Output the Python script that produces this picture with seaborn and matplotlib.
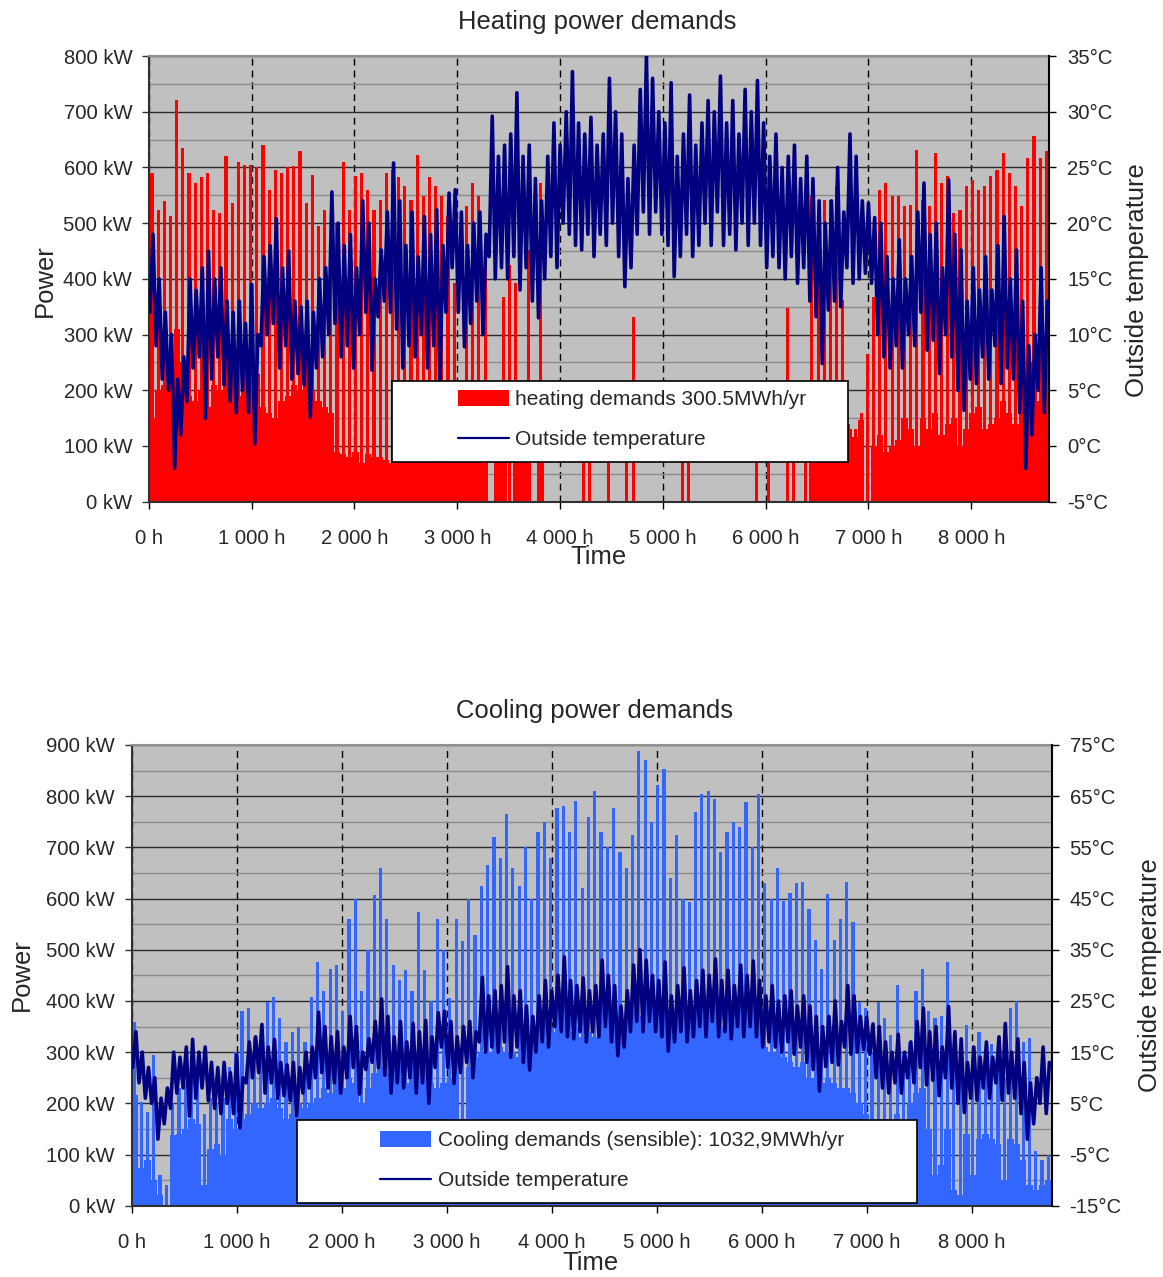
import numpy as np
import pandas as pd
import matplotlib
matplotlib.use("Agg")
import matplotlib.pyplot as plt
from matplotlib import font_manager
from matplotlib.patches import Patch, Rectangle
from matplotlib.lines import Line2D
from matplotlib.ticker import FuncFormatter, MultipleLocator, FixedLocator
import seaborn as sns

# ---------------------------------------------------------------------------
# Data: one year of building loads, summarised in 60-hour bins.
# For every bin the outside temperature is given as its low and high value,
# the demands as a sustained base level and the peak reached in the bin.
# ---------------------------------------------------------------------------
STEP_H = 60

temp_lo = [12, 9, 6, 5, -2, 1, 4, 7, 8, 2.5,
           6, 8, 5.5, 4, 3, 5, 3, 0.2, 9, 10,
           11, 7, 9, 6, 6.5, 5.5, 2.6, 7, 8, 10,
           11, 8, 9, 7, 10, 12, 6.8, 11.6, 13, 12,
           10.5, 7, 9, 8, 10, 7, 9, 5, 12, 16,
           12, 8.9, 11, 13, 10, 17, 15, 16, 15, 17,
           14, 16, 13, 11.5, 15, 17, 16, 20, 19, 18,
           17.6, 19, 17, 19, 18, 20, 17, 14.3, 16, 19,
           21, 19, 21, 19, 18, 15.2, 17, 19, 17, 18,
           20, 18, 21, 18, 19, 17.6, 20, 18, 20, 18,
           16, 17, 16, 15, 17, 14.6, 16, 13, 11.6, 7.4,
           12.2, 13, 12.5, 16, 14.6, 15, 15.5, 14.6, 10, 8,
           7, 9, 7, 10, 9, 12, 8.6, 9.5, 6.5, 10,
           8, 5, 3.2, 6, 5.6, 8, 6, 9, 5.6, 7,
           6, 3, -2, 1, 5, 3]

temp_hi = [19, 15, 12, 10, 6, 8, 15, 14, 16, 17.5,
           15, 16, 13, 12, 13, 11, 14.5, 10, 17, 18,
           20.4, 16, 17.5, 13, 12.5, 13, 12, 15, 16, 22.8,
           20, 18, 19, 16, 22, 20, 15, 17.6, 21, 25.4,
           22, 18, 21, 17, 20.6, 19, 21.2, 18, 22.7, 23,
           21, 18, 20, 21, 19, 29.6, 26, 27, 28, 31.7,
           26, 27, 24, 22, 26, 29, 27, 30, 33.6, 29,
           28, 29.5, 27, 28, 33, 30, 28, 24, 27, 32,
           35, 33, 30, 29, 32.6, 26, 28, 31.5, 27, 29,
           31, 30, 33.2, 29, 31, 28, 32, 30, 32.8, 29,
           26, 28, 25, 26, 27, 24, 26, 24, 22, 20,
           22, 25, 21, 28, 26, 22, 21.8, 20.5, 20, 17,
           15, 18.5, 15, 17, 21, 23.6, 19, 20, 16, 23.9,
           19, 17.6, 13, 16, 14, 17, 14, 18, 20.6, 15,
           17.6, 13, 9, 10, 16, 13]

heat_base = [150, 200, 210, 230, 310, 250, 190, 180, 200, 170,
             210, 200, 240, 220, 190, 200, 210, 230, 170, 160,
             150, 180, 190, 210, 200, 220, 200, 180, 170, 160,
             90, 85, 80, 90, 70, 85, 80, 80, 75, 70,
             85, 80, 90, 80, 85, 80, 75, 70, 90, 80,
             80, 100, 110, 90, 100, 0, 100, 90, 0, 80,
             90, 80, 0, 80, 0, 0, 0, 0, 0, 0,
             0, 0, 0, 0, 0, 0, 0, 0, 0, 0,
             0, 0, 0, 0, 0, 0, 0, 0, 0, 0,
             0, 0, 0, 0, 0, 0, 0, 0, 0, 0,
             0, 0, 0, 0, 0, 0, 0, 110, 120, 100,
             120, 110, 100, 130, 117, 147, 0, 100, 120, 90,
             100, 110, 150, 130, 100, 150, 130, 160, 120, 140,
             150, 100, 130, 160, 170, 130, 140, 150, 180, 160,
             140, 170, 220, 250, 180, 160]

heat_peak = [590, 524, 540, 512, 721, 634, 590, 572, 583, 590,
             524, 518, 620, 536, 610, 605, 605, 600, 640, 560,
             595, 590, 600, 602, 630, 536, 587, 494, 524, 420,
             500, 610, 524, 585, 590, 560, 524, 542, 590, 595,
             583, 566, 542, 622, 548, 583, 566, 548, 512, 392,
             0, 530, 572, 548, 428, 0, 0, 368, 425, 392,
             0, 452, 0, 572, 0, 0, 0, 0, 0, 0,
             100, 100, 0, 0, 100, 0, 0, 100, 332, 0,
             0, 0, 0, 0, 0, 0, 100, 100, 0, 0,
             0, 0, 0, 0, 0, 0, 0, 0, 100, 0,
             100, 0, 0, 347, 100, 0, 100, 548, 452, 542,
             542, 566, 362, 140, 130, 160, 266, 368, 560, 572,
             548, 548, 530, 533, 632, 542, 530, 626, 572, 584,
             518, 524, 566, 578, 560, 566, 584, 596, 626, 590,
             566, 530, 617, 656, 617, 629]

cool_base = [216, 73, 90, 50, 20, 0, 138, 140, 150, 170,
             160, 40, 110, 120, 100, 170, 150, 170, 180, 200,
             190, 200, 210, 190, 170, 180, 200, 190, 200, 210,
             230, 220, 240, 230, 250, 240, 200, 230, 260, 270,
             260, 250, 250, 240, 260, 270, 250, 240, 230, 240,
             250, 260, 170, 270, 290, 300, 300, 300, 310, 300,
             300, 290, 300, 330, 330, 320, 350, 340, 350, 340,
             350, 330, 340, 330, 350, 360, 350, 370, 360, 380,
             370, 360, 380, 370, 360, 350, 360, 370, 360, 380,
             370, 380, 360, 350, 370, 360, 360, 360, 350, 350,
             310, 300, 300, 290, 280, 270, 280, 250, 250, 240,
             250, 240, 230, 230, 220, 200, 180, 100, 170, 170,
             100, 180, 100, 200, 220, 230, 150, 60, 80, 150,
             30, 20, 140, 60, 130, 140, 130, 120, 50, 130,
             120, 90, 40, 30, 40, 50]

cool_peak = [359, 203, 183, 295, 60, 40, 200, 230, 240, 268,
             260, 180, 210, 200, 210, 270, 300, 380, 386, 330,
             300, 398, 408, 366, 320, 340, 350, 320, 408, 477,
             420, 463, 470, 380, 561, 600, 420, 500, 607, 659,
             560, 470, 440, 460, 420, 574, 460, 400, 561, 500,
             405, 561, 517, 600, 529, 625, 665, 720, 680, 766,
             659, 625, 700, 600, 731, 750, 680, 776, 780, 730,
             790, 620, 760, 810, 731, 700, 776, 690, 660, 724,
             889, 870, 750, 821, 854, 640, 724, 600, 594, 770,
             805, 810, 795, 691, 730, 750, 740, 789, 700, 805,
             630, 600, 659, 596, 610, 630, 633, 580, 520, 463,
             609, 520, 560, 633, 555, 398, 386, 300, 398, 366,
             333, 431, 300, 320, 420, 463, 380, 366, 370, 477,
             300, 250, 353, 250, 340, 280, 315, 300, 250, 386,
             400, 320, 327, 106, 90, 100]

hour_ticks = [0, 1000, 2000, 3000, 4000, 5000, 6000, 7000, 8000]

heat_title = "Heating power demands"
cool_title = "Cooling power demands"
heat_label = "heating demands 300.5MWh/yr"
cool_label = "Cooling demands (sensible): 1032,9MWh/yr"
temp_label = "Outside temperature"

# ---------------------------------------------------------------------------
RED = "#FF0000"
COOL_BLUE = "#3366FF"
NAVY = "#000080"
PANEL_GREY = "#C0C0C0"

W, H = 1163, 1277

sns.set_theme(style="ticks")


def pick_family():
    for fam in ["Liberation Sans Narrow", "Arial Narrow"]:
        try:
            font_manager.findfont(font_manager.FontProperties(family=fam),
                                  fallback_to_default=False)
            return fam, 1.0
        except Exception:
            pass
    return "Liberation Sans", 0.86


FAMILY, SCALE = pick_family()
plt.rcParams["font.family"] = [FAMILY, "DejaVu Sans"]
TICK_FS = 17 * SCALE
LEG_FS = 17.5 * SCALE
LABEL_FS = 21.5 * SCALE

n_bins = len(temp_lo)
bin_start = np.arange(n_bins) * STEP_H
edges = np.arange(n_bins + 1) * STEP_H

# temperature trace: low and high value of every bin
temp_df = pd.DataFrame({
    "hour": np.column_stack([bin_start + 10, bin_start + 40]).ravel(),
    "temp": np.column_stack([temp_lo, temp_hi]).ravel(),
})

fig = plt.figure(figsize=(W / 100, H / 100), dpi=100)
fig.patch.set_facecolor("white")


def px_rect(left, top, right, bottom):
    return [left / W, 1 - bottom / H, (right - left) / W, (bottom - top) / H]


def draw_panel(rect, base, peak, color, p_max, t_min, t_max, t_step,
               demand_label, legend_box, legend_anchor, label_pos, title, title_xy):
    ax = fig.add_axes(rect)
    ax.set_facecolor(PANEL_GREY)

    # sustained load and hourly peaks
    ax.stairs(base, edges, fill=True, color=color, lw=0, zorder=2)
    ax.bar(bin_start + 30, peak, width=30, color=color, lw=0, zorder=2)

    ax.set_xlim(0, 8760)
    ax.set_ylim(0, p_max)
    ax.set_xticks(hour_ticks)
    ax.xaxis.set_major_formatter(FuncFormatter(
        lambda v, _: f"{int(v):,} h".replace(",", " ")))
    ax.yaxis.set_major_locator(MultipleLocator(100))
    ax.yaxis.set_minor_locator(MultipleLocator(50))
    ax.yaxis.set_major_formatter(FuncFormatter(lambda v, _: f"{int(v)} kW"))

    ax.set_axisbelow(True)
    ax.grid(axis="y", which="major", color="#2a2a2a", lw=1.0)
    ax.grid(axis="y", which="minor", color="#8c8c8c", lw=1.0)
    ax.grid(axis="x", which="major", color="black", lw=1.0, ls=(0, (5, 3.5)))

    ax.tick_params(axis="y", which="major", direction="out", length=5,
                   width=1, color="#333333", pad=7, labelsize=TICK_FS,
                   left=True, right=False)
    ax.tick_params(axis="y", which="minor", length=0)
    ax.tick_params(axis="x", direction="out", length=5, width=1,
                   color="black", pad=15, labelsize=TICK_FS, bottom=True)

    for side in ("left", "bottom"):
        ax.spines[side].set_color("#303030")
        ax.spines[side].set_linewidth(1.5)
    ax.spines["top"].set_color("#909090")
    ax.spines["top"].set_linewidth(1.5)
    ax.spines["right"].set_visible(False)

    ax.set_xlabel("Time", fontsize=LABEL_FS)
    ax.set_ylabel("Power", fontsize=LABEL_FS)
    ax.xaxis.set_label_coords(*label_pos["time"])
    ax.yaxis.set_label_coords(*label_pos["power"])
    ax.xaxis.label.set(va="center", ha="center")
    ax.yaxis.label.set(va="center", ha="center", rotation_mode="anchor")

    # outside temperature on the secondary axis
    ax2 = ax.twinx()
    sns.lineplot(data=temp_df, x="hour", y="temp", ax=ax2, color=NAVY,
                 lw=2.6, estimator=None, sort=False, legend=False, zorder=3)
    ax2.set_xlim(0, 8760)
    ax2.set_ylim(t_min, t_max)
    ax2.yaxis.set_major_locator(FixedLocator(np.arange(t_min, t_max + 1, t_step)))
    ax2.yaxis.set_major_formatter(FuncFormatter(lambda v, _: f"{int(round(v))}°C"))
    ax2.tick_params(axis="y", direction="out", length=5, width=1,
                    color="black", pad=8, labelsize=TICK_FS, right=True)
    ax2.grid(False)
    for side in ("left", "top", "bottom"):
        ax2.spines[side].set_visible(False)
    ax2.spines["right"].set_color("black")
    ax2.spines["right"].set_linewidth(1.5)
    ax2.set_xlabel("")
    ax2.set_ylabel(temp_label, fontsize=LABEL_FS)
    ax2.yaxis.set_label_coords(*label_pos["temp"])
    ax2.yaxis.label.set(va="center", ha="center", rotation_mode="anchor")

    # legend panel
    x0, y0, x1, y1 = legend_box
    ax2.add_patch(Rectangle((x0, y0), x1 - x0, y1 - y0, transform=ax2.transAxes,
                            facecolor="white", edgecolor="black", lw=1.2,
                            zorder=10, clip_on=False))
    handles = [Patch(facecolor=color, edgecolor="none"),
               Line2D([], [], color=NAVY, lw=1.6)]
    leg = ax2.legend(handles, [demand_label, temp_label], loc="center left",
                     bbox_to_anchor=legend_anchor, frameon=False, borderpad=0,
                     borderaxespad=0, handlelength=2.45, handleheight=0.78,
                     handletextpad=0.3, labelspacing=1.0, fontsize=LEG_FS)
    leg.set_zorder(11)

    fig.text(title_xy[0] / W, 1 - title_xy[1] / H, title, ha="center",
             va="center", fontsize=LABEL_FS)
    return ax, ax2


# Heating panel
draw_panel(px_rect(148.9, 56, 1049.4, 501.7), heat_base, heat_peak, RED,
           800, -5, 35, 5, heat_label,
           legend_box=(0.270, 0.089, 0.776, 0.271),
           legend_anchor=(0.343, 0.184),
           label_pos={"time": (0.4987, -0.124), "power": (-0.1154, 0.497),
                      "temp": (1.0973, 0.497)},
           title=heat_title, title_xy=(597, 22))

# Cooling panel
draw_panel(px_rect(131.7, 745, 1051.5, 1205.7), cool_base, cool_peak, COOL_BLUE,
           900, -15, 75, 10, cool_label,
           legend_box=(0.1797, 0.006, 0.8538, 0.186),
           legend_anchor=(0.270, 0.098),
           label_pos={"time": (0.4983, -0.1244), "power": (-0.1193, 0.5008),
                      "temp": (1.1071, 0.5008)},
           title=cool_title, title_xy=(594, 711))

fig.savefig("out.png", dpi=100, facecolor="white")
